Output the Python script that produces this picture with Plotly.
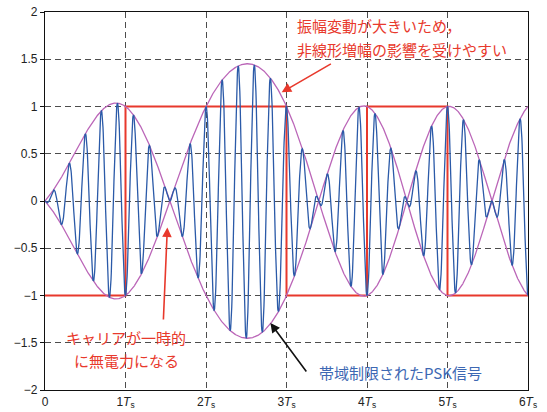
import numpy as np
import plotly.graph_objects as go

# Transmitted symbols, one per symbol period Ts (NRZ data shown in red)
symbols = [-1, 1, 1, -1, 1, -1]
symbol_edges = [0, 1, 2, 3, 4, 5, 6]          # in units of Ts
carrier_cycles_per_symbol = 5                   # carrier frequency fc * Ts
rolloff = 0.5                                   # raised-cosine roll-off factor

x_ticks = [0, 1, 2, 3, 4, 5, 6]
x_ticktext = ["0"] + [f"{k}<i>T</i><sub>s</sub>" for k in range(1, 7)]
y_ticks = [2, 1.5, 1, 0.5, 0, -0.5, -1, -1.5, -2]
y_ticktext = ["2", "1.5", "1", "0.5", "0", "\u22120.5", "\u22121", "\u22121.5", "\u22122"]

RED = "#e8392c"
BLUE = "#2b5aa8"
MAGENTA = "#bb66b8"
GRID = "#4d4d4d"


def raised_cosine(t, a):
    """Raised-cosine (Nyquist) pulse, t in units of Ts."""
    num = np.sinc(t) * np.cos(np.pi * a * t)
    den = 1.0 - (2.0 * a * t) ** 2
    out = np.empty_like(t)
    sing = np.isclose(den, 0.0)
    out[~sing] = num[~sing] / den[~sing]
    out[sing] = (np.pi / 4.0) * np.sinc(1.0 / (2.0 * a))
    return out


# Band-limited baseband: symbol k is sampled at t = k + 1 (one symbol filter delay)
t = np.linspace(0, 6, 1801)
baseband = np.zeros_like(t)
for k, b in enumerate(symbols):
    baseband += b * raised_cosine(t - (k + 1), rolloff)
psk = baseband * np.cos(2 * np.pi * carrier_cycles_per_symbol * t)

# NRZ data as a step line
step_x, step_y = [], []
for k, b in enumerate(symbols):
    step_x += [symbol_edges[k], symbol_edges[k + 1]]
    step_y += [b, b]

fig = go.Figure()
fig.add_trace(go.Scatter(x=step_x, y=step_y, mode="lines",
                         line=dict(color=RED, width=2), hoverinfo="skip"))
fig.add_trace(go.Scatter(x=t, y=baseband, mode="lines",
                         line=dict(color=MAGENTA, width=1.3), hoverinfo="skip"))
fig.add_trace(go.Scatter(x=t, y=-baseband, mode="lines",
                         line=dict(color=MAGENTA, width=1.3), hoverinfo="skip"))
fig.add_trace(go.Scatter(x=t, y=psk, mode="lines",
                         line=dict(color=BLUE, width=1.3), hoverinfo="skip"))

cjk = "Noto Sans CJK JP"
annotations = [
    dict(x=3.11, y=1.86, text="振幅変動が大きいため，", xanchor="left", yanchor="middle",
         showarrow=False, font=dict(family=cjk, size=15, color=RED)),
    dict(x=3.11, y=1.605, text="非線形増幅の影響を受けやすい", xanchor="left", yanchor="middle",
         showarrow=False, font=dict(family=cjk, size=15, color=RED)),
    dict(x=1.01, y=-1.44, text="キャリアが一時的", xanchor="center", yanchor="middle",
         showarrow=False, font=dict(family=cjk, size=15, color=RED)),
    dict(x=1.01, y=-1.685, text="に無電力になる", xanchor="center", yanchor="middle",
         showarrow=False, font=dict(family=cjk, size=15, color=RED)),
    dict(x=4.42, y=-1.82, text="帯域制限されたPSK信号", xanchor="center", yanchor="middle",
         showarrow=False, font=dict(family=cjk, size=15, color="#3d68b3")),
    # arrows
    dict(x=2.94, y=1.15, ax=3.57, ay=1.46, xref="x", yref="y", axref="x", ayref="y",
         text="", showarrow=True, arrowhead=2, arrowsize=1.2, arrowwidth=1.6, arrowcolor=RED),
    dict(x=1.52, y=-0.28, ax=1.47, ay=-1.27, xref="x", yref="y", axref="x", ayref="y",
         text="", showarrow=True, arrowhead=2, arrowsize=1.2, arrowwidth=1.6, arrowcolor=RED),
    dict(x=2.80, y=-1.29, ax=3.26, ay=-1.82, xref="x", yref="y", axref="x", ayref="y",
         text="", showarrow=True, arrowhead=2, arrowsize=1.2, arrowwidth=1.6, arrowcolor="#111111"),
]

fig.update_layout(
    width=547, height=412,
    margin=dict(l=45, r=19, t=12, b=22, autoexpand=False),
    paper_bgcolor="white", plot_bgcolor="white",
    showlegend=False,
    font=dict(family="Liberation Sans", size=12, color="#222222"),
    annotations=annotations,
    xaxis=dict(range=[0, 6], tickvals=x_ticks, ticktext=x_ticktext, automargin=False,
               showgrid=True, gridcolor=GRID, gridwidth=1, griddash="6px,4px",
               zeroline=False, showline=True, linecolor="#111111", linewidth=1.2,
               mirror=True, ticks="", tickfont=dict(size=12)),
    yaxis=dict(range=[-2, 2], tickvals=y_ticks, ticktext=y_ticktext, automargin=False,
               showgrid=True, gridcolor=GRID, gridwidth=1, griddash="6px,4px",
               zeroline=False, showline=True, linecolor="#111111", linewidth=1.2,
               mirror=True, ticks="outside", ticklen=4, tickcolor="#111111",
               tickfont=dict(size=12)),
)

fig.write_html("out.html")
